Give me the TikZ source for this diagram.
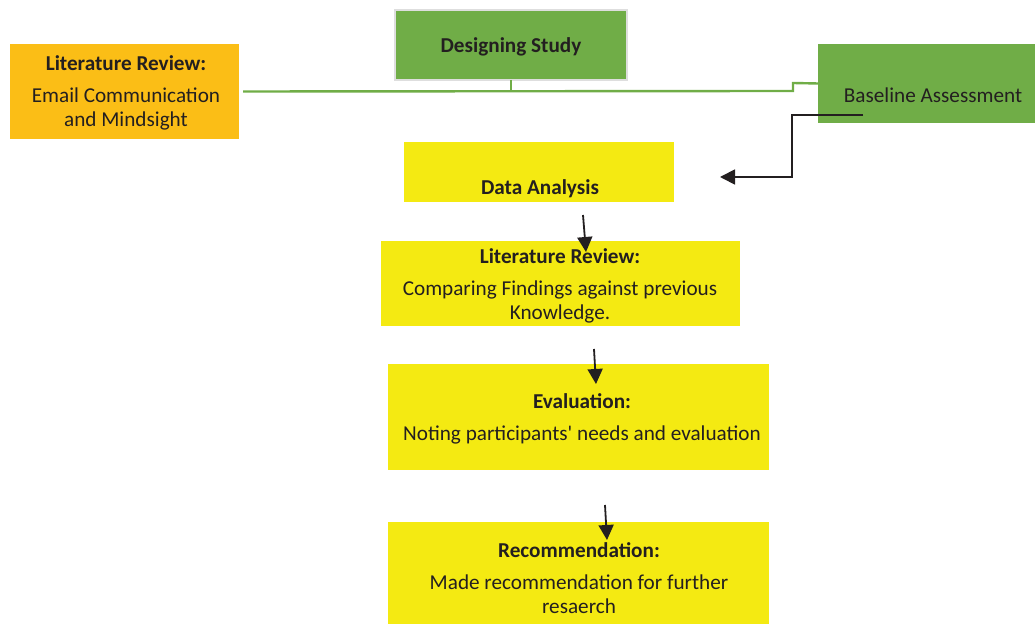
\documentclass[tikz,border=0pt]{standalone}
\usepackage{fontspec}
\setmainfont{Carlito}
\usetikzlibrary{arrows.meta}
\definecolor{myorange}{RGB}{251,190,22}
\definecolor{mygreen}{RGB}{112,173,71}
\definecolor{myyellow}{RGB}{244,234,18}
\definecolor{mytext}{RGB}{35,31,32}
\definecolor{myedge}{RGB}{222,222,222}

\begin{document}
\begin{tikzpicture}[x=0.5pt,y=-0.5pt,
    box/.style={rectangle,inner sep=0pt,outer sep=0pt},
    txt/.style={align=center,text=mytext,font=\fontsize{10.6}{12}\selectfont},
    link/.style={mygreen,line width=1.2pt},
    flow/.style={mytext,line width=0.9pt,-{Triangle[length=7.5pt,width=7.5pt]}}]
        \useasboundingbox (0,0) rectangle (1035,624);
        \node[box,fill=myorange,minimum width=114.5pt,minimum height=47.5pt] (lit) at (124.5,91.5) {};
        \node[box,fill=mygreen,draw=myedge,line width=1pt,minimum width=116pt,minimum height=35pt] (design) at (511,45) {};
        \node[box,fill=mygreen,minimum width=108.5pt,minimum height=39.5pt] (base) at (926.5,83.5) {};
        \node[box,fill=myyellow,minimum width=135pt,minimum height=30pt] (data) at (539,172) {};
        \node[box,fill=myyellow,minimum width=179.5pt,minimum height=42.5pt] (compare) at (560.5,283.5) {};
        \node[box,fill=myyellow,minimum width=190.5pt,minimum height=53pt] (eval) at (578.5,417) {};
        \node[box,fill=myyellow,minimum width=190.5pt,minimum height=51pt] (recom) at (578.5,573) {};
        \node[txt] (littxt) at (126,93) {\textbf{Literature Review:}\\[4pt]Email Communication\\and Mindsight};
        \node[txt] (designtxt) at (511,47) {\textbf{Designing Study}};
        \node[txt] (basetxt) at (933,95) {Baseline Assessment};
        \node[txt] (datatxt) at (540,189) {\textbf{Data Analysis}};
        \node[txt] (comparetxt) at (560,285.5) {\textbf{Literature Review:}\\[4pt]Comparing Findings against previous\\Knowledge.};
        \node[txt] (evaltxt) at (582,419) {\textbf{Evaluation:}\\[4pt]Noting participants\textquotesingle{} needs and evaluation};
        \node[txt] (recomtxt) at (579,578) {\textbf{Recommendation:}\\[4pt]Made recommendation for further\\resaerch};
        \coordinate (bstart) at (863,115);
        \coordinate (dain) at (720,177);
        \coordinate (a1) at (583,215);
        \coordinate (b1) at (586,252);
        \coordinate (a2) at (594,349);
        \coordinate (b2) at (596,384);
        \coordinate (a3) at (605,505);
        \coordinate (b3) at (607,540);
        \draw[link] ([xshift=2pt]lit.east) -- (793,91) -- (793,83) -- (base.west);
        \draw[link] (design.south) -- (design.south |- 0,91);
        \draw[flow] (bstart) -- (792,115) -- (792,177) -- (dain);
        \draw[flow] (a1) -- (b1);
        \draw[flow] (a2) -- (b2);
        \draw[flow] (a3) -- (b3);
    \end{tikzpicture}
\end{document}
